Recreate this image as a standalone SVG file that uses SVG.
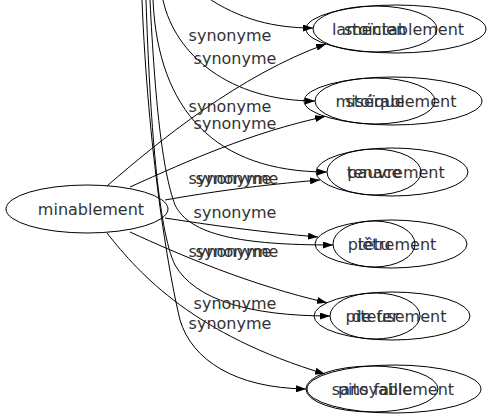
<svg xmlns="http://www.w3.org/2000/svg" width="493" height="419" viewBox="0 0 493 419">
<defs>
<marker id="arr" viewBox="0 0 10 7" refX="10" refY="3.5" markerWidth="10" markerHeight="7" markerUnits="userSpaceOnUse" orient="auto">
<path d="M0,0 L10,3.5 L0,7 Z" fill="#000"/>
</marker>
<style>
.e{fill:none;stroke:#000;stroke-width:1;marker-end:url(#arr)}
.n{fill:none;stroke:#000;stroke-width:1}
text{font-family:"DejaVu Sans","Liberation Sans",sans-serif;font-size:16px;fill:#333;text-anchor:middle}
</style>
</defs>
<rect width="493" height="419" fill="#fff"/>
<g id="edges">
<path class="e" d="M107,186 C160,140 240,75 326,44"/>
<path class="e" d="M130,187 C190,160 250,133 325,116.5"/>
<path class="e" d="M165,200 C210,192 260,185 320,180"/>
<path class="e" d="M165,218 C210,225 260,232 318,237"/>
<path class="e" d="M130,232 C180,255 250,285 327,302.7"/>
<path class="e" d="M107,233 C140,275 195,335 325,374"/>
<path class="e" d="M205,-4 C240,20 275,28 313,28"/>
<path class="e" d="M163,0 C175,55 230,101 315,101"/>
<path class="e" d="M153,0 C158,110 215,172 327,172"/>
<path class="e" d="M150,0 C155,100 162,170 175,205 C190,235 240,245 333,245"/>
<path class="e" d="M146,0 C150,120 158,230 175,265 C195,300 250,316 330,316"/>
<path class="e" d="M142,0 C148,150 168,270 180,320 C192,360 235,388 306,389"/>
<text x="230" y="41">synonyme</text>
<text x="235" y="64">synonyme</text>
<text x="230" y="112">synonyme</text>
<text x="235" y="129">synonyme</text>
<text x="230" y="184">synonyme</text>
<text x="237" y="184">synonyme</text>
<text x="235" y="218">synonyme</text>
<text x="230" y="257">synonyme</text>
<text x="237" y="257">synonyme</text>
<text x="235" y="309">synonyme</text>
<text x="230" y="329">synonyme</text>
</g>
<g id="node-minablement">
<ellipse class="n" cx="87" cy="209" rx="81" ry="24"/>
<text x="91" y="215">minablement</text>
</g>
<g id="node-lamentablement">
<ellipse class="n" cx="396" cy="29" rx="90" ry="24"/>
<text x="398" y="35">lamentablement</text>
</g>
<g id="node-stoicien">
<ellipse class="n" cx="375" cy="29" rx="62" ry="23"/>
<text x="375" y="35">stoïcien</text>
</g>
<g id="node-miserablement">
<ellipse class="n" cx="393" cy="101" rx="89" ry="24"/>
<text x="396" y="107">misérablement</text>
</g>
<g id="node-stoique">
<ellipse class="n" cx="375" cy="101" rx="60" ry="23"/>
<text x="375" y="107">stoïque</text>
</g>
<g id="node-pauvrement">
<ellipse class="n" cx="392" cy="172" rx="76" ry="24"/>
<text x="396" y="178">pauvrement</text>
</g>
<g id="node-tenace">
<ellipse class="n" cx="374" cy="172" rx="47" ry="23"/>
<text x="374" y="178">tenace</text>
</g>
<g id="node-pietrement">
<ellipse class="n" cx="391" cy="244" rx="76" ry="24"/>
<text x="392" y="250">piètrement</text>
</g>
<g id="node-tetu">
<ellipse class="n" cx="374" cy="244" rx="41" ry="23"/>
<text x="374" y="250">têtu</text>
</g>
<g id="node-piteusement">
<ellipse class="n" cx="392" cy="316" rx="78" ry="24"/>
<text x="396" y="322">piteusement</text>
</g>
<g id="node-defer">
<ellipse class="n" cx="375" cy="316" rx="45" ry="23"/>
<text x="375" y="322">de fer</text>
</g>
<g id="node-pitoyablement">
<ellipse class="n" cx="394" cy="389" rx="87" ry="24"/>
<text x="396" y="395">pitoyablement</text>
</g>
<g id="node-sansfaille">
<ellipse class="n" cx="372" cy="389" rx="66" ry="23"/>
<text x="372" y="395">sans faille</text>
</g>
</svg>
